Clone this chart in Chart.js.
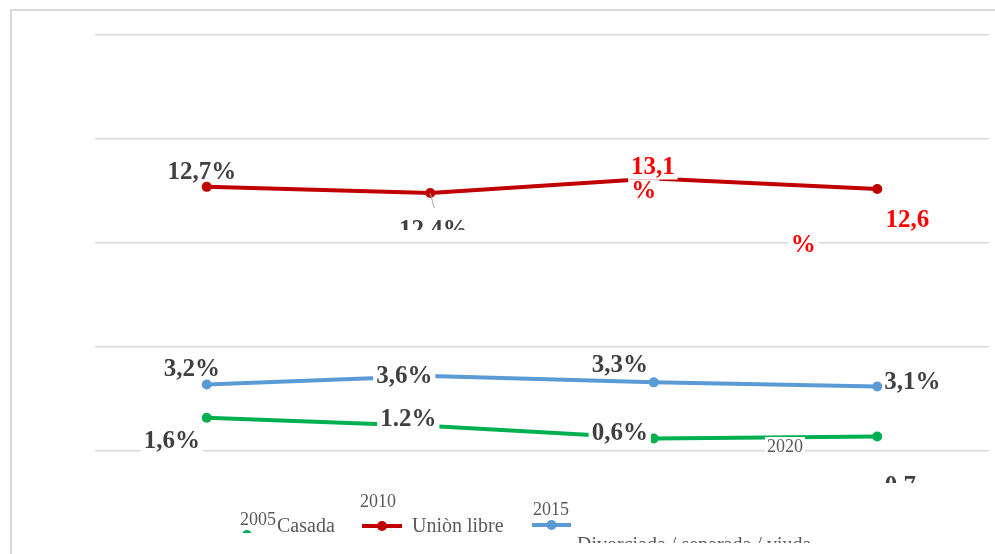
<!DOCTYPE html>
<html>
<head>
<meta charset="utf-8">
<script src="https://cdn.jsdelivr.net/npm/chart.js@4/dist/chart.umd.min.js"></script>
<style>
html,body{margin:0;padding:0;background:#fff;}
#wrap{position:relative;width:995px;height:554px;overflow:hidden;}
#box{position:absolute;left:10px;top:9px;width:1000px;height:600px;border:2px solid #d9d9d9;box-sizing:border-box;}
canvas{position:absolute;left:0;top:0;}
</style>
</head>
<body>
<div id="wrap">
<div id="box"></div>
<canvas id="c" width="995" height="554"></canvas>
</div>
<script>
/* ===== data ===== */
const years=["2005","2010","2015","2020"];
const seriesNames=["Casada","Uniòn libre","Divorciada / separada / viuda"];
const casada=[1.6,1.2,0.6,0.7];
const unionLibre=[12.7,12.4,13.1,12.6];
const divorciada=[3.2,3.6,3.3,3.1];
const casadaLabels=["1,6%","1.2%","0,6%","0,7"];
const unionLabels=["12,7%","12,4%","13,1","12,6"];
const divorciadaLabels=["3,2%","3,6%","3,3%","3,1%"];
const yTicks=[0,5,10,15,20];

const colGreen="#00b050";
const colRed="#c00000";
const colBlue="#5b9bd5";

const getEl=(id)=>document.getElementById(id);

/* ===== label placement (offsets from point) ===== */
const labelCfg={
0:[ // casada
{dx:-35,dy:24,bg:true},
{dx:-22,dy:-6,bg:true},
{dx:-34,dy:-5,bg:true},
{dx:23,dy:50,clipBottom:483}
],
1:[ // union
{dx:-5,dy:-14},
{dx:3,dy:37,clipBottom:230,leader:true},
{dx:-1,dy:-11,color:"#ff0000",bg:true,extra:{text:"%",dx:-10,dy:13}},
{dx:30,dy:32,color:"#ff0000",extra:{text:"%",dx:-74,dy:57,bg:true}}
],
2:[ // divorciada
{dx:-15,dy:-15},
{dx:-26,dy:0,bg:true},
{dx:-34,dy:-17,bg:true},
{dx:35,dy:-4}
]
};
const allLabels=[casadaLabels,unionLabels,divorciadaLabels];

const labelPlugin={
id:"labels",
afterDatasetsDraw(chart){
const ctx=chart.ctx;
ctx.save();
ctx.font="bold 25px 'Liberation Serif'";
ctx.textAlign="center";
ctx.textBaseline="middle";
chart.data.datasets.forEach((ds,di)=>{
const meta=chart.getDatasetMeta(di);
meta.data.forEach((pt,i)=>{
const cfg=labelCfg[di][i];
const txt=allLabels[di][i];
const x=pt.x+cfg.dx, y=pt.y+cfg.dy;
if(cfg.leader){
ctx.strokeStyle="#a6a6a6";ctx.lineWidth=1;
ctx.beginPath();ctx.moveTo(pt.x,pt.y);ctx.lineTo(pt.x+4,pt.y+15);ctx.stroke();
}
ctx.save();
if(cfg.clipBottom){
ctx.beginPath();ctx.rect(0,0,995,cfg.clipBottom);ctx.clip();
}
drawText(ctx,txt,x,y,cfg.color||"#404040",cfg.bg);
if(cfg.extra){
drawText(ctx,cfg.extra.text,pt.x+cfg.extra.dx,pt.y+cfg.extra.dy,cfg.color||"#404040",cfg.extra.bg||cfg.bg);
}
ctx.restore();
});
});
ctx.restore();
}
};

function drawText(ctx,txt,x,y,color,bg){
if(bg){
const w=ctx.measureText(txt).width;
ctx.fillStyle="#fff";
ctx.fillRect(x-w/2-3,y-12,w+6,24);
}
ctx.fillStyle=color;
ctx.fillText(txt,x,y);
}

/* x labels and legend, drawn scattered like the source */
const extraPlugin={
id:"extras",
afterDraw(chart){
const ctx=chart.ctx;
ctx.save();
ctx.textBaseline="middle";
ctx.textAlign="center";
ctx.font="18px 'Liberation Serif'";
const yearPos=[[258,520],[378,502],[551,510],[785,447]];
years.forEach((y,i)=>{
const w=ctx.measureText(y).width;
if(i===3){ctx.fillStyle="#fff";ctx.fillRect(yearPos[i][0]-w/2-2,yearPos[i][1]-10,w+4,20);}
ctx.fillStyle="#595959";
ctx.fillText(y,yearPos[i][0],yearPos[i][1]);
});
/* legend */
ctx.font="20px 'Liberation Serif'";
ctx.textAlign="left";
const leg=[
{x1:238,x2:256,y:535,c:colGreen,tx:277,ty:527},
{x1:362,x2:402,y:526,c:colRed,tx:412,ty:527},
{x1:532,x2:571,y:525,c:colBlue,tx:577,ty:546}
];
leg.forEach((l,i)=>{
ctx.save();
if(i===0){ctx.beginPath();ctx.rect(0,529,995,4);ctx.clip();}
ctx.strokeStyle=l.c;ctx.lineWidth=4;
ctx.beginPath();ctx.moveTo(l.x1,l.y);ctx.lineTo(l.x2,l.y);ctx.stroke();
ctx.fillStyle=l.c;ctx.beginPath();ctx.arc((l.x1+l.x2)/2,l.y,5,0,Math.PI*2);ctx.fill();
ctx.restore();
ctx.save();
if(i===2){ctx.beginPath();ctx.rect(0,0,995,543);ctx.clip();}
ctx.fillStyle="#595959";
ctx.fillText(seriesNames[i],l.tx,l.ty);
ctx.restore();
});
ctx.restore();
}
};

new Chart(getEl("c"),{
type:"line",
data:{
labels:years,
datasets:[
{label:seriesNames[0],data:casada,borderColor:colGreen,backgroundColor:colGreen,borderWidth:4,pointRadius:5,pointBackgroundColor:colGreen,pointBorderWidth:0,tension:0},
{label:seriesNames[1],data:unionLibre,borderColor:colRed,backgroundColor:colRed,borderWidth:4,pointRadius:5,pointBackgroundColor:colRed,pointBorderWidth:0,tension:0},
{label:seriesNames[2],data:divorciada,borderColor:colBlue,backgroundColor:colBlue,borderWidth:4,pointRadius:5,pointBackgroundColor:colBlue,pointBorderWidth:0,tension:0}
]
},
options:{
responsive:false,
animation:false,
layout:{padding:{left:95,right:6,top:35,bottom:103}},
plugins:{legend:{display:false},tooltip:{enabled:false}},
scales:{
x:{display:false,offset:true},
y:{
min:0,max:20,
afterBuildTicks(axis){axis.ticks=yTicks.map(v=>({value:v}));},
ticks:{display:false},
border:{display:false},
grid:{color:"#d9d9d9",lineWidth:1.5,drawTicks:false,tickLength:0}
}
}
},
plugins:[labelPlugin,extraPlugin]
});
</script>
</body>
</html>
